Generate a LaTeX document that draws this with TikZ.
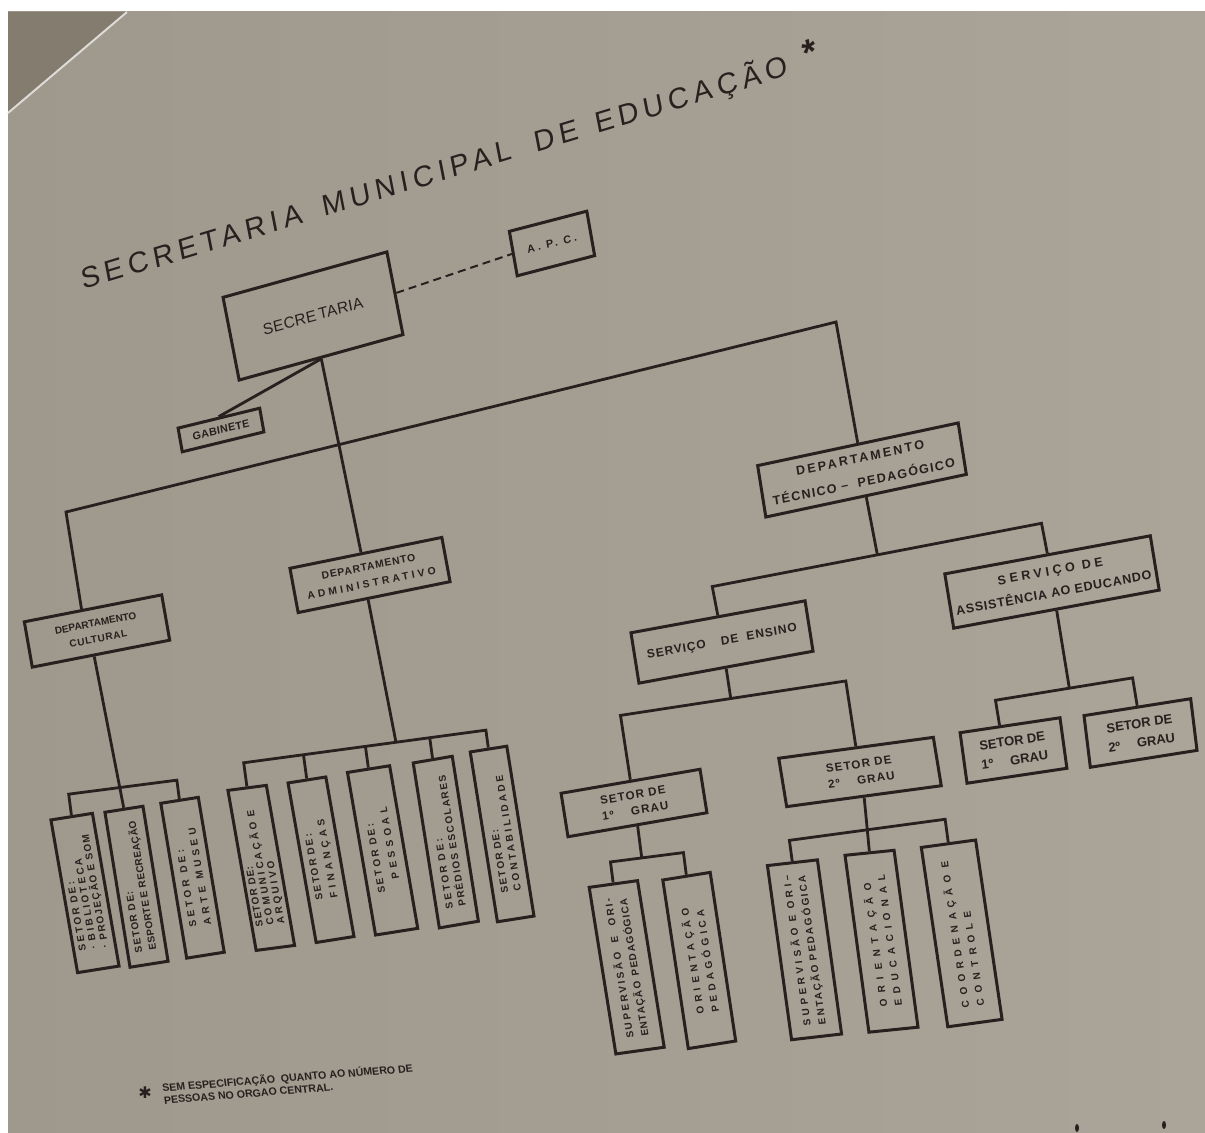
\documentclass[tikz,border=0pt]{standalone}
\usepackage{fontspec}
\setmainfont{Liberation Sans}
\newfontfamily\symfont{DejaVu Sans}
\usetikzlibrary{calc}

\definecolor{paperdark}{RGB}{159,152,140}
\definecolor{paperlight}{RGB}{170,164,153}
\definecolor{wall}{RGB}{132,124,110}
\definecolor{ink}{RGB}{38,32,30}

\newcommand\ls[1]{\addfontfeatures{LetterSpace=#1}}

\begin{document}
\begin{tikzpicture}[x=0.5pt, y=-0.5pt,
  box/.style={draw=ink, line width=1.5pt, inner sep=0pt, align=center, text=ink},
  hbox/.style n args={4}{box, rotate=#1, xslant={tan(#1-#2)}, minimum width={#3*0.5pt}, minimum height={#4*0.5pt}},
  vbox/.style n args={4}{box, align=left, rotate={90+#2}, xslant={tan(#2-#1)}, minimum width={#4*0.5pt}, minimum height={#3*0.5pt}},
  link/.style={draw=ink, line width=1.4pt}]

\useasboundingbox (0,0) rectangle (1205,1133);
\fill[white] (0,0) rectangle (1205,1133);
\shade[left color=paperdark, right color=paperlight] (8,12) rectangle (1205,1133);
\fill[wall] (8,12) -- (127,12) -- (8,113) -- cycle;
\draw[white!60!paperlight, line width=1pt] (127,12) -- (8,113);

\node[anchor=base west, inner sep=0pt, text=ink, rotate=16.9, xslant={tan(5.9)}, font={\fontsize{14.5}{14.5}\selectfont\ls{18}}] (title) at (83,290) {SECRETARIA\hspace{0.75em}MUNICIPAL\hspace{0.85em}DE\hspace{0.6em}EDUCAÇÃO\hspace{0.6em}\raisebox{2pt}{\fontsize{18}{18}\selectfont\bfseries *}};

% top level
\node[hbox={15.5}{11}{170}{84}, font={\fontsize{7.8}{9}\selectfont\ls{2}}] (sec) at (313,316) {SECRE\,TARIA};
\node[hbox={14.6}{10}{80}{45}, font={\fontsize{5.4}{6}\selectfont\bfseries\ls{27}}] (apc) at (552,243.5) {A. P. C.};
\node[hbox={13.7}{10}{84}{24}, font={\fontsize{5.4}{6}\selectfont\bfseries\ls{3}}] (gab) at (221,430) {GABINETE};

% departamentos
\node[hbox={11.1}{10}{140}{46}, font={\fontsize{5}{8}\selectfont\bfseries}] (cul) at (97,631) {\ls{0}DEPARTAMENTO\\\ls{7}CULTURAL};
\node[hbox={11.5}{10.5}{155}{45}, font={\fontsize{5.2}{8.5}\selectfont\bfseries}] (adm) at (370,575) {\ls{8}DEPARTAMENTO\\\ls{31}ADMINISTRATIVO};
\node[hbox={12}{9}{205}{52}, font={\fontsize{6.3}{12}\selectfont\bfseries}] (tec) at (862,470) {\ls{19}DEPARTAMENTO\\\ls{11}TÉCNICO\ – \ PEDAGÓGICO};

% servicos e setores
\node[hbox={10.4}{9}{177}{51}, font={\fontsize{6}{7}\selectfont\bfseries\ls{8}}] (ens) at (722,642) {SERVIÇO\hspace{1.3em}DE\hspace{0.7em}ENSINO};
\node[hbox={10.5}{9.3}{209}{55}, font={\fontsize{6.3}{11}\selectfont\bfseries}] (ass) at (1052,582) {\ls{29}SERVIÇO DE\\\ls{6}ASSISTÊNCIA AO EDUCANDO};
\node[hbox={9.8}{9}{141}{44}, font={\fontsize{5.8}{8}\selectfont\bfseries\ls{10}}] (s1e) at (634,803) {SETOR DE\\1º\hspace{1.5em}GRAU};
\node[hbox={7.7}{9.3}{156}{49}, font={\fontsize{5.8}{8}\selectfont\bfseries\ls{10}}] (s2e) at (860,772) {SETOR DE\\2º\hspace{1.5em}GRAU};
\node[hbox={8.5}{7.8}{101}{51}, font={\fontsize{6.5}{9.5}\selectfont\bfseries}] (s1a) at (1013.5,750.5) {SETOR DE\\1º\hspace{1.3em}GRAU};
\node[hbox={9}{7}{108}{52}, font={\fontsize{6.5}{9.5}\selectfont\bfseries}] (s2a) at (1140.5,733) {SETOR DE\\2º\hspace{1.3em}GRAU};

% setores do dep. cultural
\node[vbox={9}{9.9}{42}{155}, font={\fontsize{5}{5.6}\selectfont\bfseries}] (bib) at (85,893) {\ls{23}SETOR~DE:\\\ls{25}·~BIBLIOTECA\\\ls{14}·~PROJEÇÃO~E~SOM};
\node[vbox={9}{9.2}{38.5}{157}, font={\fontsize{5}{7}\selectfont\bfseries}] (esp) at (136.5,886.75) {\ls{11}SETOR~DE:\\\ls{4}ESPORTE~E~RECREAÇÃO};
\node[vbox={9}{9.5}{38}{157}, font={\fontsize{5}{7.5}\selectfont\bfseries}] (mus) at (192.5,877.75) {\ls{35}SETOR~DE:\\\ls{38}ARTE\hspace{0.8em}MUSEU};

% setores do dep. administrativo
\node[vbox={7.4}{10}{38.7}{162.5}, font={\fontsize{5}{5.4}\selectfont\bfseries}] (com) at (261.25,867.9) {\ls{10}SETOR~DE:\\\ls{27}COMUNICAÇÃO~E\\\ls{28}ARQUIVO};
\node[vbox={9}{10}{38.3}{162}, font={\fontsize{5}{7.5}\selectfont\bfseries}] (fin) at (321,859.75) {\ls{18}SETOR~DE:\\\ls{39}FINANÇAS};
\node[vbox={9}{9.8}{42.7}{165}, font={\fontsize{5}{8}\selectfont\bfseries}] (pes) at (382.6,850.4) {\ls{24}SETOR~DE:\\\hspace*{1.2em}\ls{42}PESSOAL};
\node[vbox={9.7}{9}{39.6}{167}, font={\fontsize{5}{6.5}\selectfont\bfseries}] (pre) at (445.8,842.1) {\ls{23}SETOR~DE:\\\ls{15}PRÉDIOS~ESCOLARES};
\node[vbox={8.9}{9.1}{37}{172}, font={\fontsize{5}{6.5}\selectfont\bfseries}] (con) at (502.1,834) {\ls{14}SETOR~DE:\\\ls{29}CONTABILIDADE};

% setores de ensino
\node[vbox={7.9}{9.1}{48.8}{168.7}, font={\fontsize{5}{7.5}\selectfont\bfseries}] (sup1) at (626.7,967.3) {\ls{24}SUPERVISÃO\hspace{1em}E\hspace{1em}ORI-\\\ls{11}ENTAÇÃO\hspace{0.6em}PEDAGÓGICA};
\node[vbox={9.1}{8.6}{48}{170.5}, font={\fontsize{5}{7.5}\selectfont\bfseries}] (orp) at (699.25,960.5) {\ls{45}ORIENTAÇÃO\\\ls{39}PEDAGÓGICA};
\node[vbox={6.5}{7.9}{50.3}{175.8}, font={\fontsize{5}{7.5}\selectfont\bfseries}] (sup2) at (804.5,949.8) {\ls{37}SUPERVISÃO~E~ORI–\\\ls{19}ENTAÇÃO~PEDAGÓGICA};
\node[vbox={5.8}{7.7}{49.3}{178.5}, font={\fontsize{5}{7.5}\selectfont\bfseries}] (ore) at (881.5,941.25) {\ls{65}ORIENTAÇÃO\\\ls{58}EDUCACIONAL};
\node[vbox={7.8}{8.4}{54.8}{181.3}, font={\fontsize{5}{7.5}\selectfont\bfseries}] (coo) at (961.7,933.4) {\ls{53}COORDENAÇÃO~E\\\ls{56}CONTROLE};

% nota
\node[text=ink, font={\symfont\fontsize{8}{8}\selectfont}] (star) at (145,1093) {✱};
\node[anchor=north west, inner sep=0pt, text=ink, rotate=4.5, xslant={tan(-3.5)}, align=left, font={\fontsize{5.3}{6.2}\selectfont\bfseries}] (note) at (161,1082) {SEM ESPECIFICAÇÃO\ \ QUANTO AO NÚMERO DE\\PESSOAS NO ORGAO CENTRAL.};

% ligacoes
\coordinate (mL) at (66,512);
\coordinate (mR) at (836,322);
\draw[link, dash pattern=on 4pt off 2.5pt, line width=1pt] (sec.east) -- (apc.west);
\draw[link] (sec.south) -- (gab.north);
\draw[link] (sec.south) -- ($(adm.north west)!0.47!(adm.north east)$);
\draw[link] ($(cul.north west)!0.42!(cul.north east)$) -- (mL) -- (mR) -- (tec.north);

\coordinate (cb1) at (70,794);
\coordinate (cb2) at (178,780);
\draw[link] ($(cul.south west)!0.45!(cul.south east)$) -- (esp.east);
\draw[link] (bib.east) -- ($(cb1)!(bib.east)!(cb2)$) -- ($(cb1)!(mus.east)!(cb2)$) -- (mus.east);

\coordinate (ab1) at (242,763);
\coordinate (ab2) at (487,730);
\coordinate (aj) at (396,742.3);
\draw[link] ($(adm.south west)!0.46!(adm.south east)$) -- (aj);
\draw[link] (com.east) -- ($(ab1)!(com.east)!(ab2)$) -- ($(ab1)!(con.east)!(ab2)$) -- (con.east);
\foreach \n in {fin,pes,pre}
  \draw[link] (\n.east) -- ($(ab1)!(\n.east)!(ab2)$);

\coordinate (tb1) at (710,587);
\coordinate (tb2) at (1043,523);
\draw[link] (tec.south) -- ($(tb1)!(tec.south)!(tb2)$);
\draw[link] (ens.north) -- ($(tb1)!(ens.north)!(tb2)$) -- ($(tb1)!(ass.north)!(tb2)$) -- (ass.north);

\coordinate (eb1) at (623,715);
\coordinate (eb2) at (839,682);
\draw[link] (ens.south) -- ($(eb1)!(ens.south)!(eb2)$);
\draw[link] (s1e.north) -- ($(eb1)!(s1e.north)!(eb2)$) -- ($(eb1)!(s2e.north)!(eb2)$) -- (s2e.north);

\coordinate (sb1) at (997,700);
\coordinate (sb2) at (1138,677);
\coordinate (s1at) at ($(s1a.north west)!0.4!(s1a.north east)$);
\draw[link] (ass.south) -- ($(sb1)!(ass.south)!(sb2)$);
\draw[link] (s1at) -- ($(sb1)!(s1at)!(sb2)$) -- ($(sb1)!(s2a.north)!(sb2)$) -- (s2a.north);

\coordinate (fb1) at (610,862);
\coordinate (fb2) at (688,852);
\draw[link] (s1e.south) -- ($(fb1)!(s1e.south)!(fb2)$);
\draw[link] (sup1.east) -- ($(fb1)!(sup1.east)!(fb2)$) -- ($(fb1)!(orp.east)!(fb2)$) -- (orp.east);

\coordinate (gb1) at (792,840);
\coordinate (gb2) at (947,819);
\draw[link] (s2e.south) -- (ore.east);
\draw[link] (sup2.east) -- ($(gb1)!(sup2.east)!(gb2)$) -- ($(gb1)!(coo.east)!(gb2)$) -- (coo.east);

\fill[ink] (1077,1128) ellipse (2 and 4);
\fill[ink] (1164,1125) ellipse (2 and 4);
\end{tikzpicture}
\end{document}
